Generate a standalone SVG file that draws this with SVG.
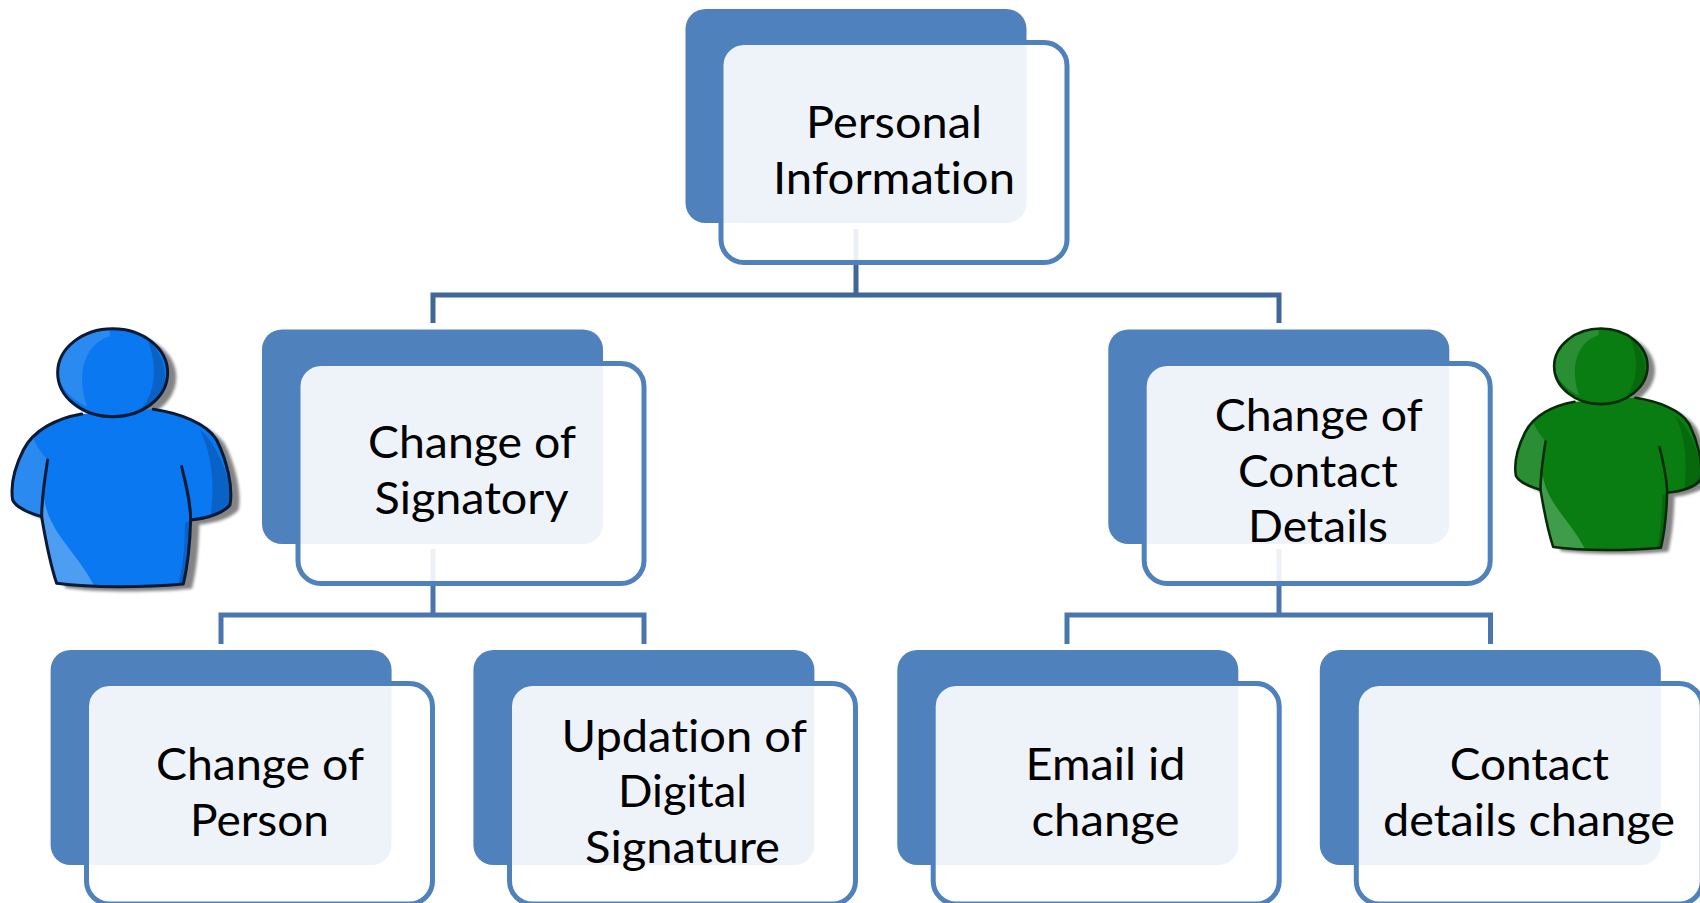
<svg xmlns="http://www.w3.org/2000/svg" xmlns:xlink="http://www.w3.org/1999/xlink" width="1700" height="903" viewBox="0 0 1700 903">
<style>
.back{fill:#4f81bd}
.front{fill:#fff;fill-opacity:.9;stroke:#4f81bd;stroke-width:5}
.lbl{font-family:"Lato","Liberation Sans",sans-serif;font-size:45px;fill:#000;font-variant-ligatures:none}
.c{fill:none;stroke:#4a76ae;stroke-width:5;stroke-linejoin:miter}
.c0{stroke:#3f6797}
.shadow{fill:#5c5c5c;opacity:.75;filter:url(#blur)}
.main{fill:var(--main)}
.hi{fill:var(--hi)}
.hi2{fill:var(--hi2)}
.lo{fill:var(--lo)}
.ol{fill:none;stroke:var(--ol);stroke-width:9;stroke-linecap:round;stroke-linejoin:round}
#person-blue{--main:#0a78f0;--hi:#4d9ef2;--hi2:#2a8af0;--lo:#0a62c6;--ol:#0a1a35}
#person-green{--main:#0a7d12;--hi:#3f9c48;--hi2:#2a8f34;--lo:#066a0c;--ol:#072a0a}
</style>
<defs>
<filter id="blur" x="-10%" y="-10%" width="120%" height="120%"><feGaussianBlur stdDeviation="5"/></filter>
<g id="person">
<path class="shadow" transform="translate(26,14)" d="M245 312C170 325 100 360 70 420C45 470 30 520 38 570C50 595 90 610 125 620C135 680 150 760 170 820C280 835 440 832 550 822C565 760 570 700 572 630C620 625 670 610 690 585C700 530 680 450 650 390C620 340 540 310 460 298Z"/>
<ellipse class="shadow" transform="translate(26,14)" cx="338" cy="188" rx="165" ry="132"/>
<path class="main" d="M245 312C170 325 100 360 70 420C45 470 30 520 38 570C50 595 90 610 125 620C135 680 150 760 170 820C280 835 440 832 550 822C565 760 570 700 572 630C620 625 670 610 690 585C700 530 680 450 650 390C620 340 540 310 460 298Z"/>
<path class="hi2" d="M100 385C60 430 30 520 38 570C50 595 90 610 125 620C128 560 135 500 143 450C125 430 110 410 100 385Z"/>
<path class="hi" d="M133 570C150 670 225 720 282 826L172 820C150 760 135 680 125 620Z"/>
<path class="lo" d="M600 360C650 400 695 500 690 585C675 600 655 612 632 618C645 520 635 430 600 360Z"/>
<path class="lo" d="M555 640L572 630C570 700 565 760 550 822L535 824C550 770 555 700 555 640Z"/>
<ellipse class="main" cx="338" cy="188" rx="165" ry="132"/>
<path class="hi2" d="M330 58C240 62 175 125 173 188C175 225 215 270 262 290C235 220 235 110 330 78Z"/>
<path class="lo" d="M440 85C490 130 505 190 490 240C475 270 445 295 410 310C470 260 475 160 440 85Z"/>
<ellipse class="ol" cx="338" cy="188" rx="165" ry="132"/>
<path class="ol" d="M245 312C170 325 100 360 70 420C45 470 30 520 38 570C50 595 90 610 125 620C135 680 150 760 170 820C280 835 440 832 550 822C565 760 570 700 572 630C620 625 670 610 690 585C700 530 680 450 650 390C620 340 540 310 460 298"/>
<path class="ol" d="M143 450C135 500 125 570 125 620M545 470C560 530 572 580 572 630"/>
</g>
</defs>
<rect width="1700" height="903" fill="#fff"/>
<g id="connectors">
<path class="c c0" d="M856 229V295M433 323V295H1279V323"/>
<path class="c" d="M433 549V615M221 644V615H644V644"/>
<path class="c" d="M1279 549V615M1067 644V615H1490.500V644"/>
</g>
<g id="person-left"><g id="person-blue" transform="translate(0 310) scale(.3333)"><use href="#person"/></g></g>
<g id="person-right"><g id="person-green" transform="translate(1515 328.300) scale(.2833 .286) translate(-35 -55)"><use href="#person"/></g></g>
<g id="node-personal-information">
<rect class="back" x="685.500" y="9" width="341" height="214" rx="20"/>
<rect class="front" x="721" y="42.500" width="346" height="220" rx="23"/>
<text class="lbl" x="806" y="138.300" textLength="176" lengthAdjust="spacingAndGlyphs">Personal</text>
<text class="lbl" x="773" y="194" textLength="242" lengthAdjust="spacingAndGlyphs">Information</text>
</g>
<g id="node-change-of-signatory">
<rect class="back" x="262" y="329.500" width="341" height="214.500" rx="20"/>
<rect class="front" x="298" y="363.500" width="346" height="220" rx="23"/>
<text class="lbl" x="368" y="458.300" textLength="208" lengthAdjust="spacingAndGlyphs">Change of</text>
<text class="lbl" x="374.500" y="514.300" textLength="194" lengthAdjust="spacingAndGlyphs">Signatory</text>
</g>
<g id="node-change-of-contact-details">
<rect class="back" x="1108.300" y="329.500" width="341" height="214.500" rx="20"/>
<rect class="front" x="1144.200" y="363.500" width="346" height="220" rx="23"/>
<text class="lbl" x="1214.700" y="430.700" textLength="208" lengthAdjust="spacingAndGlyphs">Change of</text>
<text class="lbl" x="1238" y="486.700" textLength="159.700" lengthAdjust="spacingAndGlyphs">Contact</text>
<text class="lbl" x="1248" y="542.300" textLength="140" lengthAdjust="spacingAndGlyphs">Details</text>
</g>
<g id="node-change-of-person">
<rect class="back" x="50.600" y="650" width="341" height="215" rx="20"/>
<rect class="front" x="86.500" y="683.500" width="346" height="220.500" rx="23"/>
<text class="lbl" x="156" y="780" textLength="208" lengthAdjust="spacingAndGlyphs">Change of</text>
<text class="lbl" x="190" y="835.700" textLength="139" lengthAdjust="spacingAndGlyphs">Person</text>
</g>
<g id="node-updation-of-digital-signature">
<rect class="back" x="473.400" y="650" width="341" height="215" rx="20"/>
<rect class="front" x="509.500" y="683.500" width="346" height="220.500" rx="23"/>
<text class="lbl" x="561.500" y="752.300" textLength="245.500" lengthAdjust="spacingAndGlyphs">Updation of</text>
<text class="lbl" x="618" y="807.300" textLength="129" lengthAdjust="spacingAndGlyphs">Digital</text>
<text class="lbl" x="585" y="863.300" textLength="195" lengthAdjust="spacingAndGlyphs">Signature</text>
</g>
<g id="node-email-id-change">
<rect class="back" x="897.300" y="650" width="341" height="215" rx="20"/>
<rect class="front" x="933.200" y="683.500" width="346" height="220.500" rx="23"/>
<text class="lbl" x="1025.500" y="780" textLength="160" lengthAdjust="spacingAndGlyphs">Email id</text>
<text class="lbl" x="1031.500" y="835.700" textLength="148" lengthAdjust="spacingAndGlyphs">change</text>
</g>
<g id="node-contact-details-change">
<rect class="back" x="1319.800" y="650" width="341" height="215" rx="20"/>
<rect class="front" x="1356.300" y="683.500" width="346" height="220.500" rx="23"/>
<text class="lbl" x="1449.700" y="780" textLength="159.300" lengthAdjust="spacingAndGlyphs">Contact</text>
<text class="lbl" x="1383" y="835.700" textLength="292" lengthAdjust="spacingAndGlyphs">details change</text>
</g>
</svg>
